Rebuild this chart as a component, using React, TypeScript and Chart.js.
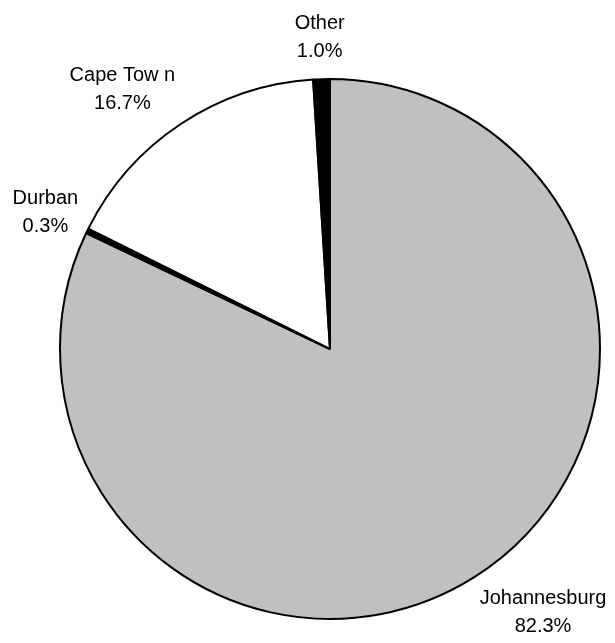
import React, { useEffect, useRef } from "react";
import { Chart, registerables } from "chart.js";

Chart.register(...registerables);

const categories = ["Johannesburg", "Durban", "Cape Tow n", "Other"];
const shares = [82.3, 0.3, 16.7, 1.0];
const colors = ["#C0C0C0", "#000000", "#FFFFFF", "#000000"];

const FONT = "20px 'Liberation Sans', Arial, sans-serif";
const LINE_H = 28;

const outsideLabels = {
  id: "outsideLabels",
  afterDraw(chart: any) {
    const ctx = chart.ctx;
    const meta = chart.getDatasetMeta(0);
    ctx.save();
    ctx.font = FONT;
    ctx.fillStyle = "#000";
    ctx.textAlign = "center";
    ctx.textBaseline = "middle";
    meta.data.forEach((arc: any, i: number) => {
      const { x, y, startAngle, endAngle, outerRadius } = arc.getProps(
        ["x", "y", "startAngle", "endAngle", "outerRadius"],
        true
      );
      const mid = (startAngle + endAngle) / 2;
      const dx = Math.cos(mid);
      const dy = Math.sin(mid);
      const lines = [categories[i], shares[i].toFixed(1) + "%"];
      const w = Math.max(...lines.map((l) => ctx.measureText(l).width));
      const r = outerRadius + 10;
      const k = Math.max(-1, Math.min(1, dx * 2));
      const cx = x + dx * r + (w / 2) * k;
      const cy = y + dy * r + dy * 32;
      lines.forEach((l, j) => {
        ctx.fillText(l, cx, cy + (j - (lines.length - 1) / 2) * LINE_H);
      });
    });
    ctx.restore();
  },
};

export default function App() {
  const ref = useRef<HTMLCanvasElement>(null);
  useEffect(() => {
    if (!ref.current) return;
    const chart = new Chart(ref.current, {
      type: "pie",
      data: {
        labels: categories,
        datasets: [
          {
            data: shares,
            backgroundColor: colors,
            borderColor: "#000000",
            borderWidth: 2,
          },
        ],
      },
      options: {
        responsive: false,
        animation: false,
        layout: { padding: { left: 59, right: 14, top: 78, bottom: 23 } },
        plugins: {
          legend: { display: false },
          tooltip: { enabled: false },
        },
      },
      plugins: [outsideLabels],
    });
    return () => chart.destroy();
  }, []);
  return (
    <div style={{ position: "absolute", left: 0, top: 0, width: 615, height: 643, background: "#fff" }}>
      <canvas ref={ref} width={615} height={643} />
    </div>
  );
}
